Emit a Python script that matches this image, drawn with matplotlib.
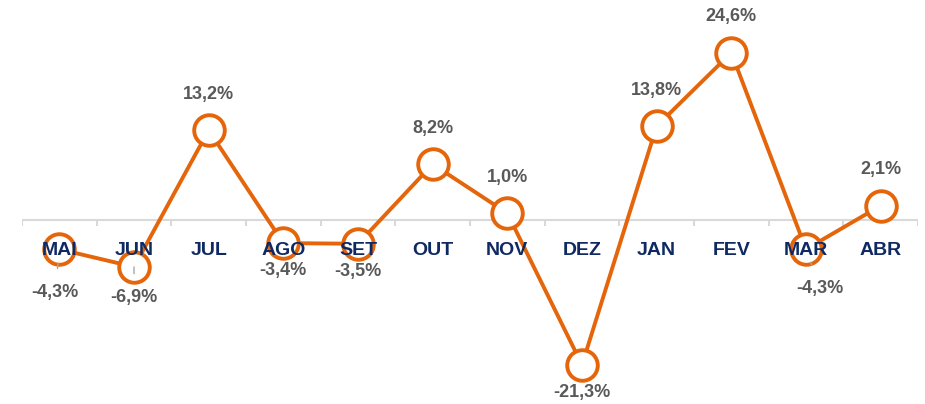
import matplotlib
matplotlib.use('Agg')
import matplotlib.pyplot as plt
import numpy as np

# month-over-month change (%)
months = ['MAI', 'JUN', 'JUL', 'AGO', 'SET', 'OUT', 'NOV', 'DEZ', 'JAN', 'FEV', 'MAR', 'ABR']
values = [-4.3, -6.9, 13.2, -3.4, -3.5, 8.2, 1.0, -21.3, 13.8, 24.6, -4.3, 2.1]
value_labels = ['-4,3%', '-6,9%', '13,2%', '-3,4%', '-3,5%', '8,2%', '1,0%', '-21,3%', '13,8%', '24,6%', '-4,3%', '2,1%']

orange = '#E5650A'
navy = '#0F2A62'
grey = '#595959'
font = ['Liberation Sans Narrow', 'Liberation Sans', 'DejaVu Sans']

fig = plt.figure(figsize=(9.25, 4.04), dpi=100)
ax = fig.add_axes([22 / 925, 0, 896 / 925, 1])
ax.set_xlim(-0.5, 11.5)
ax.set_ylim(-27.06, 32.35)
ax.axis('off')

x = np.arange(len(months))

# zero axis line with category tick marks
ax.axhline(0, color='#D9D9D9', lw=1.5, zorder=1)
ax.vlines(np.arange(-0.5, 12, 1), -0.9, 0, color='#D9D9D9', lw=1.5, zorder=1)

ax.plot(x, values, color=orange, lw=2.8, marker='o', ms=22, mfc='white',
        mec=orange, mew=2.8, zorder=3)

# month names under the axis
for i, m in enumerate(months):
    ax.annotate(m, (i, 0), xytext=(0, -22), textcoords='offset points',
                ha='center', va='center', fontsize=14, fontweight='bold',
                color=navy, family=font, zorder=4)

# value labels, a few with leader lines like the excel original
leaders = {0: (-3, -31), 1: (0, -22), 10: (10, -28)}
for i, (v, lab) in enumerate(zip(values, value_labels)):
    if i in leaders:
        dx, dy = leaders[i]
        ax.annotate(lab, (i, v), xytext=(dx, dy), textcoords='offset points',
                    ha='center', va='center', fontsize=13, fontweight='bold',
                    color=grey, family=font, zorder=5,
                    arrowprops=dict(arrowstyle='-', color='#A6A6A6', lw=1,
                                    shrinkA=9, shrinkB=10))
    else:
        dy = 26 if v > 0 else -20
        ax.annotate(lab, (i, v), xytext=(0, dy), textcoords='offset points',
                    ha='center', va='center', fontsize=13, fontweight='bold',
                    color=grey, family=font, zorder=5)

fig.savefig('out.png', dpi=100, facecolor='white')
